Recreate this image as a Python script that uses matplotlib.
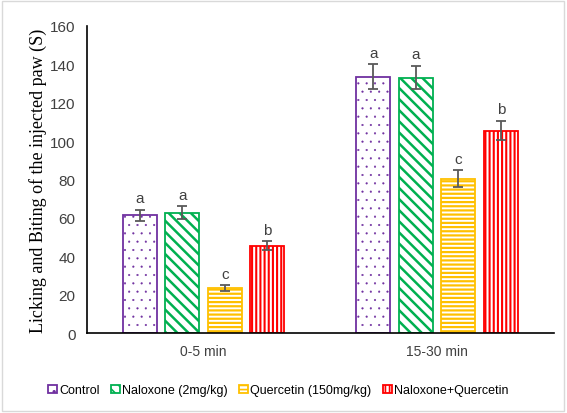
import matplotlib
matplotlib.use("Agg")
import matplotlib.pyplot as plt
import numpy as np
from matplotlib.patches import Rectangle

groups = ["0-5 min", "15-30 min"]
treatments = ["Control", "Naloxone (2mg/kg)", "Quercetin (150mg/kg)", "Naloxone+Quercetin"]
means = {
    "Control": [61.3, 133.5],
    "Naloxone (2mg/kg)": [62.8, 133.0],
    "Quercetin (150mg/kg)": [23.3, 80.5],
    "Naloxone+Quercetin": [45.6, 105.5],
}
errors = {
    "Control": [3.0, 6.5],
    "Naloxone (2mg/kg)": [3.2, 6.0],
    "Quercetin (150mg/kg)": [1.5, 4.2],
    "Naloxone+Quercetin": [2.2, 5.0],
}
letters = {
    "Control": ["a", "a"],
    "Naloxone (2mg/kg)": ["a", "a"],
    "Quercetin (150mg/kg)": ["c", "c"],
    "Naloxone+Quercetin": ["b", "b"],
}
colors = ["#7030A0", "#00B050", "#FFC000", "#FF0000"]
hatches = ["..", "\\\\\\", "----", "||||"]
hatch_lw = [0.3, 1.8, 1.6, 1.5]


def main():
    fig = plt.figure(figsize=(5.67, 4.14), dpi=100)
    ax = fig.add_axes([0.153, 0.193, 0.824, 0.742])

    x = np.arange(len(groups))
    width = 0.146
    step = 0.182
    for i, t in enumerate(treatments):
        pos = x + (i - 1.5) * step
        with plt.rc_context({"hatch.linewidth": hatch_lw[i]}):
            ax.bar(pos, means[t], width, facecolor="white", edgecolor=colors[i],
                   hatch=hatches[i], linewidth=1.3, label=t, zorder=2)
        ax.errorbar(pos, means[t], yerr=errors[t], fmt="none", ecolor="#595959",
                    elinewidth=1.3, capsize=3.5, capthick=1.3, zorder=3)
        for p, m, e, l in zip(pos, means[t], errors[t], letters[t]):
            ax.text(p, m + e + 2.5, l, ha="center", va="bottom",
                    fontsize=11, color="#404040", family="Liberation Sans")

    ax.set_xlim(-0.5, 1.5)
    ax.set_ylim(0, 160)
    ax.set_yticks(range(0, 161, 20))
    ax.set_xticks(x)
    ax.set_xticklabels(groups, fontsize=10, color="#404040", family="Liberation Sans")
    for lab in ax.get_yticklabels():
        lab.set_fontsize(11)
        lab.set_color("#404040")
        lab.set_family("Liberation Sans")
    ax.tick_params(axis="both", length=0, pad=8)
    for s in ["top", "right"]:
        ax.spines[s].set_visible(False)
    ax.spines["left"].set_linewidth(1.2)
    ax.spines["bottom"].set_linewidth(1.2)
    ax.set_ylabel("Licking and Biting of the injected paw (S)", family="Liberation Serif",
                  fontsize=13, labelpad=2)

    with plt.rc_context({"hatch.linewidth": 1.2}):
        ax.legend(loc="upper center", bbox_to_anchor=(0.41, -0.13), ncol=4, frameon=False,
                  handlelength=0.7, handleheight=0.7, handletextpad=0.2, columnspacing=0.9,
                  prop={"family": "Liberation Sans", "size": 9})

    fig.patches.append(Rectangle((0.004, 0.004), 0.99, 0.99, transform=fig.transFigure,
                                 fill=False, edgecolor="#d9d9d9", linewidth=1))
    fig.savefig("out.png", dpi=100)


if __name__ == "__main__":
    main()
